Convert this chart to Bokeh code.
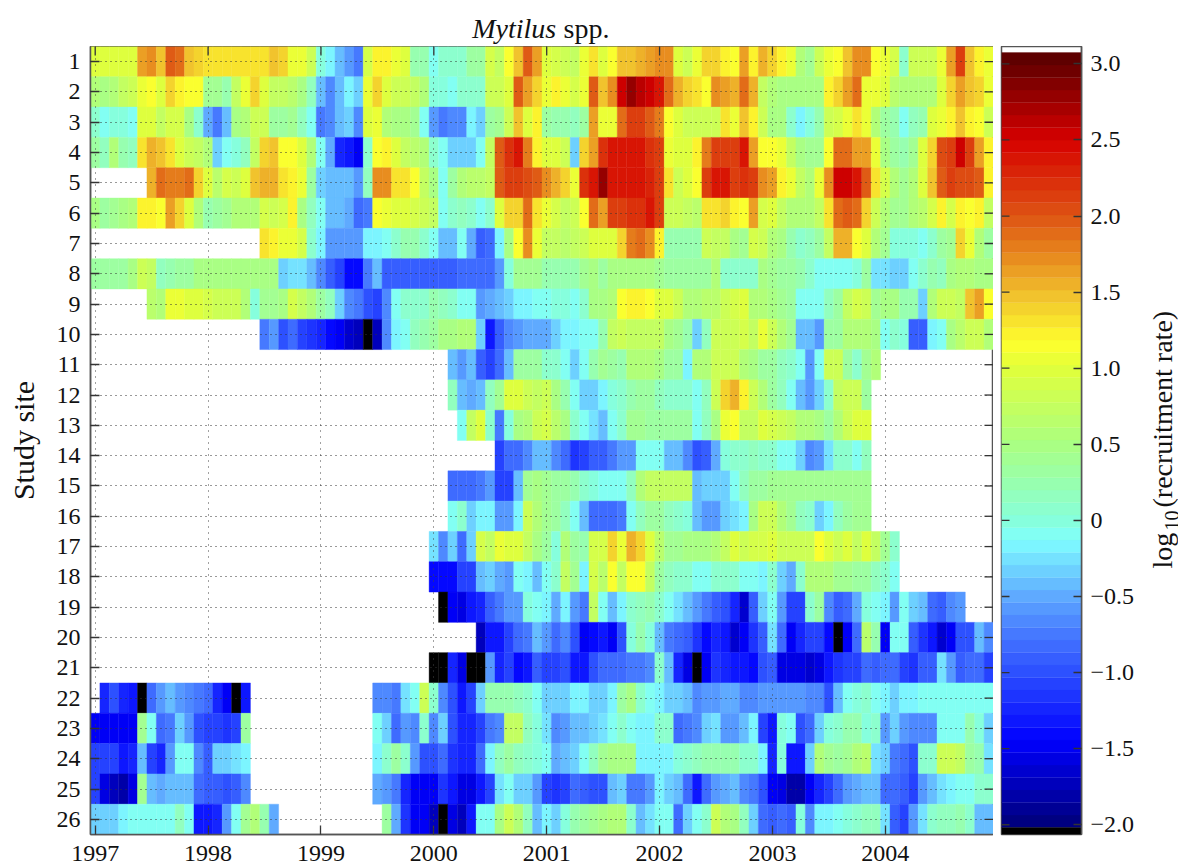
from bokeh.plotting import figure
from bokeh.layouts import row, column
from bokeh.models import (ColumnDataSource, FixedTicker, LinearColorMapper, Range1d)
from bokeh.core.properties import value
from bokeh.transform import transform
from bokeh.embed import file_html
from bokeh.resources import INLINE
import numpy as np
import math

N = None
years = [1997, 1998, 1999, 2000, 2001, 2002, 2003, 2004]
study_sites = list(range(1, 27))
cbar_ticks = [-2.0, -1.5, -1.0, -0.5, 0.0, 0.5, 1.0, 1.5, 2.0, 2.5, 3.0]
cbar_labels = ["\u22122.0", "\u22121.5", "\u22121.0", "\u22120.5", "0", "0.5", "1.0", "1.5", "2.0", "2.5", "3.0"]

site_01 = [.95,1,1,.95,.95,1.6,1.7,1.5,1.95,1.85,1.45,1.4,1.3,1.3,1.3,1.3,1.3,1.3,1.3,1.45,1.35,1.1,1.05,.8,0,-.2,-.45,-.6,-.75,.9,1.25,1.2,1.1,1.0,.25,.25,-.05,.05,.05,.05,.3,.3,.9,.75,1.15,1.45,2.0,1.6,
 .95,.9,.85,.7,1.05,1.3,.95,1.15,1.45,1.45,1.55,1.65,1.75,1.75,.95,.85,1.1,1.35,1.35,1.25,1.15,1.6,1.25,1.55,1.35,1.2,1.1,.55,.4,.85,1.1,1.15,1.5,1.75,1.75,1.15,1.05,.9,.1,.85,.85,.85,1.05,1.65,2.1,1.5,1.25,1.1]
site_02 = [.55,.5,.6,.75,.8,1.1,1.15,1.0,1.35,1.2,1.15,1.15,.4,.4,.2,.7,1.1,1.4,.95,.75,.7,.65,.45,.15,-.4,-.65,-.4,-.15,-.3,1.1,1.4,1.0,.85,.8,.75,.55,0,0,-.1,.05,.1,.1,.8,.85,1.0,2.0,1.65,1.35,
 1.1,1.2,1.05,.9,1.05,2.0,1.5,1.75,2.55,2.75,2.65,2.5,2.4,1.85,1.55,1.35,1.3,1.15,1.7,1.65,1.55,1.85,1.55,.75,.6,.5,.45,.45,.45,.5,1.2,1.35,1.65,1.85,1.1,1.05,1.0,.65,.6,.6,.6,.6,1.0,1.4,1.6,1.45,1.4,1.05]
site_03 = [.05,-.1,0,0,-.05,.95,.95,.75,.9,.9,.5,.1,-.5,-.75,-.45,.45,.6,.8,.85,.35,.35,.4,.15,-.05,-.75,-.7,-.4,-.35,-.7,1.0,1.1,.6,.5,.45,.4,-.05,-.55,-.75,-.7,-.7,-.2,-.35,.3,.4,.8,1.45,.95,1.25,
 .3,.2,.2,.15,.3,1.65,1.05,1.05,1.9,2.1,2.1,1.95,1.8,1.15,.95,.85,.85,.85,.85,1.3,1.05,1.45,1.2,.8,.5,.45,.1,-.15,0,.2,.8,.9,1.1,1.3,1.05,.6,.3,.2,-.1,.15,.2,1.0,1.1,1.2,1.5,1.25,1.15,.8]
site_04 = [.35,.15,.6,.2,.15,1.3,1.55,1.45,1.3,.95,.8,.75,.6,-.35,-.05,0,.15,.7,1.4,1.5,1.15,1.15,.95,.6,-.05,-.5,-1.2,-1.3,-1.45,.05,1.15,1.2,.95,.75,.65,.6,.1,-.05,-.3,-.35,-.3,-.05,.75,2.0,2.2,2.35,1.8,1.2,
 1.0,.95,.8,-.35,1.35,1.65,2.2,2.35,2.35,2.35,2.4,2.2,2.1,1.05,1.0,1.0,1.2,1.8,2.15,2.15,2.15,2.35,1.6,1.15,1.15,1.05,.75,.45,.4,.4,1.15,1.9,1.9,1.65,1.65,1.05,.5,.3,.2,.4,.95,1.4,2.05,2.1,2.5,2.15,1.65,1.2]
site_05 = [N]*6 + [1.55,1.85,1.8,1.8,1.85,1.35,.95,.65,.9,.8,1.0,1.45,1.55,1.55,1.3,1.2,1.05,.35,-.3,-.4,-.4,-.4,-.6,.15,1.75,1.75,1.3,1.3,1.15,.75,.5,-.05,.3,.6,.65,.65,.75,2.0,2.15,2.1,2.05,1.95,
 1.75,1.55,1.35,1.1,2.2,2.4,2.75,2.35,2.35,2.4,2.4,2.3,2.15,1.3,.8,1.0,1.15,2.15,2.4,2.4,2.1,2.25,2.15,1.7,1.6,1.2,1.1,.75,.6,1.05,1.7,2.55,2.55,2.4,2.0,1.3,.9,.55,.4,.6,.95,1.45,2.0,2.1,2.05,2.05,2.0,1.25]
site_06 = [.5,.35,.4,.45,.55,1.25,1.25,1.15,1.6,1.4,.95,.6,.25,.3,.4,.55,.6,.6,.9,.85,.9,1.25,.5,.15,-.1,-.4,-.45,-.5,-.85,-.75,1.15,1.05,1.0,.95,.9,.85,.7,-.05,.05,.15,.1,-.05,.1,.95,1.35,1.4,1.9,1.3,
 1.05,.9,.75,.8,1.15,1.9,1.6,2.15,2.15,2.2,2.25,2.35,2.1,.85,.8,.7,.65,1.3,1.3,1.4,1.2,1.15,1.6,.9,.95,.75,.6,.6,.55,.75,1.3,1.85,1.95,1.85,1.4,.85,.55,.4,.4,.6,.65,.9,1.2,.9,1.2,1.15,1.25,.75]
site_07 = [N]*18 + [1.3,1.25,1.05,1.05,.9,.1,-.2,-.55,-.6,-.6,-.55,-.2,-.2,-.1,.1,.25,.2,.1,-.1,-.45,-.45,-.05,-.5,-.9,-.85,-.2,.5,1.15,1.7,1.1,
 .7,.7,.65,.75,.85,1.0,.95,1.0,1.4,1.8,1.85,1.7,1.25,.2,.2,.2,.2,.8,.75,.7,.45,.4,.9,.8,.55,.45,.25,.1,.15,.3,.75,1.55,1.55,1.15,1.0,.55,.4,0,0,0,-.05,.1,.3,.4,1.35,1.05,.6,.3]
site_08 = [.35,.35,.35,.35,.45,.85,.7,.15,.2,.3,.35,.45,.45,.45,.45,.45,.45,.45,.45,.45,-.3,-.25,-.25,-.45,-.65,-.9,-1.1,-1.4,-1.4,-.75,-.4,-.9,-.9,-.9,-.9,-.9,-.9,-.9,-.9,-.85,-.85,-.85,-.85,-.55,0,.4,.4,.4,
 .2,.2,.2,.2,.4,.45,.35,.45,.5,.45,.45,.45,.4,.35,.3,.3,.3,.35,.6,.05,.05,.05,.1,.45,.4,.35,.3,.2,.05,-.05,-.05,-.05,-.05,0,.3,-.25,-.25,-.35,-.3,-.05,.1,.2,.15,.5,.55,.55,.5,.45]
site_09 = [N]*6 + [.65,.6,1.1,1.1,1.0,.95,.9,.85,.85,.8,.55,0,.4,.4,.5,.9,.7,.55,.35,.15,-.35,-.7,-.75,-1.0,-1.05,-.65,-.05,.1,.1,.1,.2,.15,.05,-.05,-.05,-.55,-.5,-.45,-.3,-.2,-.15,-.1,
 -.05,0,0,-.1,.1,.5,.5,.6,1.15,1.25,1.2,1.15,1.0,.95,.8,.6,.55,.65,.65,.85,.9,.95,.6,.55,.5,.4,.35,-.05,-.05,-.05,.15,.35,.7,.9,.8,.4,.5,.45,.25,.2,-.35,.6,.8,.8,.75,1.5,1.6,1.15]
site_10 = [N]*18 + [-.75,-.55,-1.0,-.85,-1.1,-1.15,-1.2,-1.4,-1.5,-1.65,-1.75,-2.03,-1.7,-.65,-.2,-.05,.15,.2,.35,.5,.5,.55,.6,-.35,-1.3,-.95,-.7,-.6,-.5,-.5,
 -.5,-.3,-.2,-.2,-.05,-.1,.2,.75,.8,.75,.75,.7,.75,.45,.4,.25,-.35,.15,.85,.85,.8,.9,.75,1.05,.85,.6,.4,-.4,-.4,-.6,.3,.35,.55,.6,.6,.45,-.05,.05,0,-.95,-.95,-.15,-.05,.5,.65,.85,.85,.6]
site_11 = [N]*38 + [-.45,-.55,-.45,-.95,-1.05,-.8,-.45,.3,.3,.35,
 .1,.05,-.05,-.3,-.05,.2,.4,.35,.2,.6,.6,.6,.45,.35,.3,-.15,.55,.6,.85,.85,.8,.55,.45,.35,.3,.15,.1,-.05,-.55,-.05,.8,.8,.35,.1,.4,.6] + [N]*12
site_12 = [N]*38 + [.15,-.45,-.5,-.45,.15,.4,.95,.95,.8,.7,
 .85,.45,.25,-.05,-.3,-.3,-.15,0,.1,.25,.3,.3,.15,.1,.1,.05,-.05,.15,.85,1.4,1.55,1.2,.85,.55,.35,.15,-.1,-.45,-.6,-.3,.05,.7,.85,.85,.35] + [N]*13
site_13 = [N]*39 + [-.05,.75,.95,.05,-.75,0,.5,.55,.8,
 .9,.65,.5,.1,-.1,-.25,-.45,-.1,.05,.4,.4,.35,.35,.35,.35,.35,-.05,.15,.45,1.05,1.15,.7,.7,1.0,.9,.8,.7,.6,.55,.5,.35,.55,.85,1.0,1.0] + [N]*13
site_14 = [N]*43 + [-1.1,-.8,-.8,-.7,-.45,
 -.45,-.65,-.8,-1.15,-1.05,-.95,-.95,-.75,-.55,-.55,-.1,-.05,-.1,-.4,-.45,-.65,-1.0,-.9,-.5,0,.05,.1,.15,.1,.1,-.05,-.1,-.3,-.65,-.55,-.25,.05,.05,-.05,.15] + [N]*13
site_15 = [N]*38 + [-.8,-.8,-.8,-.75,-.6,-1.1,-1.05,-.45,.4,.45,
 .4,.35,.3,.2,.1,0,-.05,-.05,-.05,.15,.6,.7,.75,.75,.75,.75,-.4,-.3,-.3,-.3,-.05,.15,.35,.35,.4,.4,.4,.4,.4,.4,.4,.4,.4,.4,.4] + [N]*13
site_16 = [N]*38 + [-.05,.05,-.35,-.2,-.2,-.55,-.55,-.15,.85,.55,
 .4,.3,.15,-.05,-.4,-.8,-.85,-.8,-.75,-.05,.15,.35,.3,.15,.05,0,-.4,-.6,-.55,-.35,-.25,-.2,.5,.85,.85,.55,.4,.15,.05,-.3,-.15,.15,.35,.4,.4] + [N]*13
site_17 = [N]*36 + [-.25,-.7,-.3,-.85,-.3,.9,.75,1.05,.95,1.0,.75,.5,
 .3,0,.6,.35,.25,.9,.9,1.4,1.05,1.55,1.35,.95,.65,.4,.4,.45,.5,.5,.6,.7,.95,.8,.9,.9,.95,.8,.85,.85,.85,1.15,.95,.85,1.0,.75,.95,.75,.4,.1] + [N]*10
site_18 = [N]*36 + [-1.4,-1.4,-1.4,-1.1,-1.1,-.4,-.35,-.5,-.6,-.1,-.15,-.4,
 -.1,.05,.75,.4,-.2,.9,.65,1.15,.75,1.15,1.15,.7,.3,.15,.1,.05,-.05,-.05,.1,.05,.05,-.05,-.05,-.15,.05,-.3,-.5,.1,.6,.6,.6,.4,.4,.35,.3,.15,.1,-.05] + [N]*10
site_19 = [N]*37 + [-2.03,-1.45,-1.6,-1.35,-1.2,-.95,-.75,-.6,-.55,0,-.1,
 -.15,-.5,-.2,-.55,-.75,.7,-.1,-.4,-.2,.1,.15,.25,.1,-.05,-.25,-.4,-.55,-.75,-.9,-1.0,-1.2,-1.65,-.95,-.35,-.1,-.6,-1.05,-1.05,.1,.3,-.7,-.9,-.85,-.5,0,-.1,-.15,-.55,-.1,-.3,-.4,-.85,-.95,-.7,-.55] + [N]*3
site_20 = [N]*41 + [-1.75,-1.35,-1.35,-1.05,-.8,-.75,-.4,
 -.6,-.8,-.7,-1.0,-1.5,-1.4,-1.35,-1.5,-1.0,0,.2,0,-.45,-.75,-.8,-.9,-1.15,-1.4,-1.2,-1.3,-1.65,-1.5,-1.15,-.95,-.25,-.8,-1.45,-1.2,-1.1,-1.1,-1.4,-2.03,-1.45,-.85,.65,.2,-1.45,-.1,-.05,-.9,-1.15,-1.3,-1.65,-1.5,-1.0,-1.0,-.45,-.7]
site_21 = [N]*36 + [-2.03,-2.03,-1.25,-1.55,-2.03,-2.03,-.55,-1.25,-1.1,-1.4,-1.35,-.95,
 -1.1,-1.1,-1.0,-1.35,-1.35,-1.0,-.8,-.8,-.8,-.75,-.75,-.7,.05,-.4,-1.25,-1.55,-2.03,-1.45,-1.15,-1.2,-1.3,-1.3,-1.4,-1.0,-.95,-1.55,-1.55,-1.6,-1.65,-1.6,-1.3,-1.15,-1.1,-1.1,-.8,-.9,-.85,-.85,-1.1,-1.15,-.95,-.95,-.25,-.55,-.95,-.85,-.85,-1.05]
site_22 = [N] + [-1.25,-1.0,-1.2,-1.35,-2.03,-.85,-.55,-.4,-.55,-.65,-.75,-.85,-1.2,-1.45,-2.03,-1.3] + [N]*13 + [-.7,-.7,-.75,-.25,-.05,.85,.1,-.7,-1.0,-1.3,-1.1,-.35,.2,.2,.2,.15,.05,-.1,
 -.35,-.3,-.3,-.2,-.2,-.3,-.3,-.2,.3,.45,.1,-.05,-.2,-.3,-.35,-.45,-.7,-.55,-.55,-.5,-.5,-.65,-.65,-.55,-.55,-.6,-.55,-.55,-.7,-.7,-1.0,-.45,-.1,0,.1,-.05,-.15,-.3,-.2,-.15,-.1,-.05,-.05,-.05,-.05,-.05,-.05,-.1]
site_23 = [-1.45,-1.45,-1.45,-1.45,-1.45,.4,-.1,-.8,-.75,-.35,-.6,-1.0,-1.05,-1.05,-1.15,-1.05,.35] + [N]*13 + [-.05,-.3,-.85,-.55,-.7,.05,-.65,-.3,-1.0,-1.25,-1.25,-1.1,-.75,-.7,.75,.75,.15,0,
 -.25,-.65,-.55,-.45,-.4,-.3,-.25,-.05,.1,-.05,-.15,-.2,.05,.05,-.8,-.75,-.65,-.3,-.25,-.55,-.55,-.4,-.15,-1.05,-1.3,0,-.05,-1.0,-.85,-.3,0,.05,.2,.25,0,.05,-.6,-.3,-.55,-.65,-.7,-.65,-.1,-.05,-.05,.25,0,-.35]
site_24 = [-1.1,-1.1,-1.1,-1.3,-1.2,-.4,-1.05,-1.25,-.6,-.05,-.1,-.7,-.95,-.35,-.3,-.25,-.2] + [N]*13 + [-.2,.1,.35,.1,-.6,-1.0,-1.0,-.85,-1.15,-1.2,-1.2,-.85,-.15,.15,.3,.15,.1,0,
 -.1,-.5,-.45,-.3,-.05,.15,.4,.45,.5,.45,-.2,-.2,-.15,-.2,0,.1,.15,.2,.2,.2,.2,.1,.05,-.15,-1.25,0,-1.35,-1.35,-.3,.6,.4,.3,.4,.55,.65,-.25,-.35,-.75,-.8,-1.0,.05,.1,.8,.85,.75,.35,.2,-.25]
site_25 = [-1.1,-1.55,-1.7,-1.85,-1.55,.4,-.4,-.5,-.45,-.4,-.4,-.8,-.95,-.95,-1.0,-.95,-.65] + [N]*13 + [-.5,-.55,-.75,-1.25,-1.5,-1.5,-1.5,-1.15,-1.3,-1.6,-1.6,-1.3,-1.05,-.25,-.1,-.35,-.35,-.55,
 -1.1,-1.15,-1.05,-.85,-.9,-1.0,-1.0,-.4,-.3,-.75,-.75,-.55,-.2,-.3,-.45,-.8,-1.35,-.8,-.55,-.5,-.45,-.7,-.75,-1.0,-1.5,-1.6,-1.8,-1.8,-1.45,-1.25,-1.05,-.85,-.6,-.5,-.45,-.4,-.8,-.85,-.95,-1.05,-.6,-.4,-.25,-.2,-.05,-.05,.05,.1]
site_26 = [-.3,-.3,-.3,-.2,-.1,-.05,-.05,-.05,-.05,.15,-.1,-1.35,-1.35,-1.25,-.55,-.05,.4,.55,.2,-.5] + [N]*11 + [.35,-.5,-1.15,-1.5,-1.45,-1.7,-2.03,-1.6,-1.75,-1.35,-.05,-.1,.45,.8,.6,.15,-.4,
 -.2,-.35,0,.2,.3,.4,.5,.55,.55,.05,-.45,-.25,-.05,-.1,-.85,-.3,-.05,.1,.85,.55,.5,.15,-.3,-.85,-.9,-.85,-.9,0,-.7,-.15,-.15,-.05,0,.1,.15,.15,-.25,-.95,-1.1,-.55,-.25,.1,.15,.15,.2,.05,-.4,-.4]

sites = [site_01, site_02, site_03, site_04, site_05, site_06, site_07, site_08, site_09, site_10, site_11, site_12, site_13,
         site_14, site_15, site_16, site_17, site_18, site_19, site_20, site_21, site_22, site_23, site_24, site_25, site_26]
bad = [(i + 1, len(s)) for i, s in enumerate(sites) if len(s) != 96]
assert not bad, bad

# Colour scale: anchors
anchor_v = [-2.018, -1.45, -1.0, -0.75, -0.5, -0.13, 0.0, 0.5, 1.0, 1.17, 1.5, 1.75, 2.0, 2.5, 3.0, 3.074]
anchor_r = [0, 0, 45, 70, 95, 128, 135, 170, 225, 255, 240, 232, 222, 215, 100, 90]
anchor_g = [0, 0, 80, 120, 170, 255, 255, 255, 255, 255, 190, 135, 85, 0, 0, 0]
anchor_b = [120, 255, 255, 255, 255, 255, 220, 130, 60, 45, 45, 30, 20, 0, 0, 0]
LOW, HIGH, LEVELS = -2.018, 3.074, 62
step = (HIGH - LOW) / LEVELS
centres = LOW + (np.arange(LEVELS) + 0.5) * step
palette = ["#%02x%02x%02x" % (int(np.interp(c, anchor_v, anchor_r)), int(np.interp(c, anchor_v, anchor_g)),
                               int(np.interp(c, anchor_v, anchor_b))) for c in centres]
mapper = LinearColorMapper(palette=palette, low=LOW, high=HIGH, low_color="#000000", high_color="#ffffff", nan_color="#ffffff")

xs, ys, vs = [], [], []
for r, vals in enumerate(sites):
    for c, v in enumerate(vals):
        if v is not None:
            xs.append(1997 + c / 12)
            ys.append(study_sites[r])
            vs.append(v)
src = ColumnDataSource(dict(x=xs, y=ys, v=vs))

FONT = "Liberation Serif"
AX = "#555555"
TICKC = "#333333"
TEXTC = "#111111"
TICK_SIZE = "24px"
LABEL_SIZE = "30px"
X0, X1 = 1997 - 1 / 24, 1997 + 95 / 12 + 1 / 24


def text_panel(w, h):
    """Blank strip whose ranges equal its own pixels, used for text outside the plot boxes."""
    f = figure(frame_width=w, frame_height=h, output_backend="svg", toolbar_location=None,
               x_range=Range1d(0, w), y_range=Range1d(h, 0), x_axis_location=None, y_axis_location=None,
               min_border_left=0, min_border_right=0, min_border_top=0, min_border_bottom=0)
    f.grid.visible = False
    f.outline_line_color = None
    return f


# Title strip
title_fig = text_panel(1190, 46)
title_fig.text(x=[471.7], y=[28.3], text=["Mytilus"], text_font=value(FONT), text_font_style="italic",
               text_font_size="28px", text_color=TEXTC, text_baseline="alphabetic")
title_fig.text(x=[563], y=[28.3], text=["spp."], text_font=value(FONT),
               text_font_size="28px", text_color=TEXTC, text_baseline="alphabetic")

# Main heat map
p = figure(frame_width=903, frame_height=788, output_backend="svg", toolbar_location=None,
           x_range=Range1d(X0, X1), y_range=Range1d(26.5, 0.5),
           min_border_left=90, min_border_right=0, min_border_top=0, min_border_bottom=31)
p.rect("x", "y", width=1 / 12, height=1, source=src, fill_color=transform("v", mapper),
       line_color=transform("v", mapper), line_width=0.4)

p.outline_line_color = AX
p.outline_line_width = 1.5
p.background_fill_color = "white"


def style(ax, ticker, tick_in=9):
    ax.ticker = ticker
    ax.axis_line_color = AX
    ax.axis_line_width = 1.5
    ax.major_tick_line_color = TICKC
    ax.major_tick_line_width = 1.3
    ax.major_tick_in = tick_in
    ax.major_tick_out = 0
    ax.minor_tick_line_color = None
    ax.major_label_text_font = FONT
    ax.major_label_text_font_size = TICK_SIZE
    ax.major_label_text_color = TEXTC


xt = FixedTicker(ticks=years)
yt = FixedTicker(ticks=study_sites)
style(p.xaxis[0], xt)
style(p.yaxis[0], yt)
p.xaxis[0].major_label_standoff = 11
p.yaxis[0].major_label_standoff = 10
p.yaxis[0].axis_label = "Study site"
p.yaxis[0].axis_label_text_font = FONT
p.yaxis[0].axis_label_text_font_size = LABEL_SIZE
p.yaxis[0].axis_label_text_font_style = "normal"
p.yaxis[0].axis_label_text_color = TEXTC
p.yaxis[0].axis_label_standoff = 14

p.xgrid.ticker = xt
p.ygrid.ticker = yt
p.xgrid.level = "overlay"
p.ygrid.level = "overlay"
p.xgrid.grid_line_color = "#444444"
p.xgrid.grid_line_dash = "1 5"
p.ygrid.grid_line_color = "#333333"
p.ygrid.grid_line_dash = "1 4"

# inward ticks on the top and right sides of the box
p.segment(x0=years, x1=years, y0=[0.5] * len(years), y1=[0.5 + 9 / 30.31] * len(years), line_color=TICKC, line_width=1.3)
p.segment(x0=[X1] * 26, x1=[X1 - 9 / 112.7] * 26, y0=study_sites, y1=study_sites, line_color=TICKC, line_width=1.3)

# Colour bar panel
CB_LOW, CB_HIGH = -2.064, 3.114
cb = figure(frame_width=80, frame_height=788, output_backend="svg", toolbar_location=None,
            x_range=Range1d(0, 1), y_range=Range1d(CB_LOW, CB_HIGH),
            min_border_left=8, min_border_right=59, min_border_top=0, min_border_bottom=31,
            x_axis_location=None, y_axis_location="right")
cb.grid.visible = False
cb.outline_line_color = AX
cb.outline_line_width = 1.5
band_src = ColumnDataSource(dict(b=list(LOW + np.arange(LEVELS) * step), t=list(LOW + (np.arange(LEVELS) + 1) * step), c=palette))
cb.quad(left=0, right=1, bottom="b", top="t", source=band_src, fill_color="c", line_color="c", line_width=0.3)
cb.quad(left=0, right=1, bottom=CB_LOW, top=LOW, fill_color="#000000", line_color="#000000", line_width=0.3)

ct = FixedTicker(ticks=cbar_ticks)
style(cb.yaxis[0], ct, tick_in=8)
cb.yaxis[0].major_label_overrides = {float(k): v for k, v in zip(cbar_ticks, cbar_labels)}
cb.yaxis[0].major_label_standoff = 9
cb.segment(x0=[0] * 11, x1=[0.1] * 11, y0=cbar_ticks, y1=cbar_ticks, line_color=TICKC, line_width=1.3)

# Rotated colour bar label strip
UP = math.pi / 2
label_fig = text_panel(38, 788)
label_fig.text(x=[22], y=[522], text=["log"], angle=UP, text_font=value(FONT), text_font_size="28px",
               text_color=TEXTC, text_baseline="alphabetic")
label_fig.text(x=[31], y=[484], text=["10"], angle=UP, text_font=value(FONT), text_font_size="20px",
               text_color=TEXTC, text_baseline="alphabetic")
label_fig.text(x=[22], y=[461], text=["(recruitment rate)"], angle=UP, text_font=value(FONT), text_font_size="28px",
               text_color=TEXTC, text_baseline="alphabetic")

page = column(title_fig, row(p, cb, label_fig, spacing=0), spacing=0, margin=(0, 0, -6, 0))
open("out.html", "w").write(file_html(page, INLINE))
